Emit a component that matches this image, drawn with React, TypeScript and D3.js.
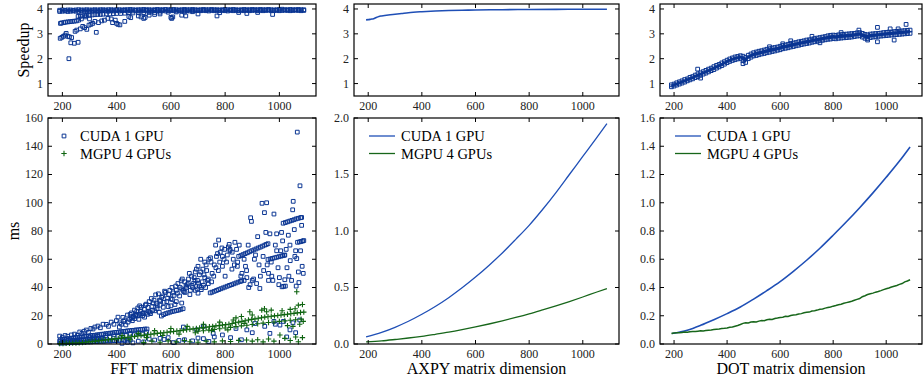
import React from 'react'
import * as d3 from 'd3'

type Pt = [number, number]

// matrix dimensions sampled every 10
const dims = [
  190, 200, 210, 220, 230, 240, 250, 260, 270, 280, 290, 300, 310, 320, 330, 340, 350, 360, 370, 380,
  390, 400, 410, 420, 430, 440, 450, 460, 470, 480, 490, 500, 510, 520, 530, 540, 550, 560, 570, 580,
  590, 600, 610, 620, 630, 640, 650, 660, 670, 680, 690, 700, 710, 720, 730, 740, 750, 760, 770, 780,
  790, 800, 810, 820, 830, 840, 850, 860, 870, 880, 890, 900, 910, 920, 930, 940, 950, 960, 970, 980,
  990, 1000, 1010, 1020, 1030, 1040, 1050, 1060, 1070, 1080, 1090,
]

// ---- FFT ----
const fftSpeedRowA = [
  3.95, 3.96, 3.95, 3.96, 3.96, 3.95, 3.96, 3.97, 3.96, 3.96,
  3.97, 3.96, 3.96, 3.97, 3.96, 3.97, 3.97, 3.96, 3.97, 3.97,
  3.96, 3.97, 3.97, 3.96, 3.97, 3.97, 3.98, 3.97, 3.96, 3.97,
  3.97, 3.98, 3.97, 3.97, 3.96, 3.97, 3.98, 3.97, 3.97, 3.98,
  3.97, 3.97, 3.98, 3.97, 3.96, 3.97, 3.98, 3.97, 3.97, 3.98,
  3.97, 3.96, 3.97, 3.98, 3.97, 3.97, 3.98, 3.97, 3.97, 3.96,
  3.97, 3.98, 3.97, 3.97, 3.98, 3.97, 3.96, 3.97, 3.98, 3.97,
  3.97, 3.98, 3.97, 3.97, 3.98, 3.97, 3.97, 3.98, 3.97, 3.96,
  3.97, 3.98, 3.99, 3.97, 3.97, 3.98, 3.97, 3.97, 3.98, 3.97, 3.97,
]
const fftSpeedRowB = [
  3.90, 3.91, 3.92, 3.90, 3.91, 3.92, 3.91, 3.90, 3.92, 3.91,
  3.92, 3.91, 3.92, 3.93, 3.91, 3.92, 3.93, 3.92, 3.91, 3.93,
  3.92, 3.93, 3.92, 3.93, 3.94, 3.92, 3.93, 3.92, 3.94, 3.93,
  3.92, 3.93, 3.94, 3.93, 3.92, 3.94, 3.93, 3.93, 3.94, 3.92,
  3.93, 3.94, 3.93, 3.92, 3.94, 3.93, 3.94, 3.93, 3.92, 3.94,
  3.93, 3.94, 3.93, 3.94, 3.93, 3.92, 3.94, 3.93, 3.94, 3.93,
  3.94, 3.93, 3.92, 3.94, 3.93, 3.94, 3.93, 3.94, 3.93, 3.94,
  3.93, 3.94, 3.95, 3.93, 3.94, 3.93, 3.94, 3.95, 3.93, 3.94,
  3.94, 3.93, 3.94, 3.95, 3.94, 3.93, 3.94, 3.95, 3.94, 3.93, 3.94,
]
const fftSpeedOther: Pt[] = [
  [193, 3.42], [197, 3.44], [205, 3.45], [212, 3.47], [220, 3.48], [228, 3.49], [236, 3.5], [244, 3.51], [252, 3.52],
  [258, 3.7], [266, 3.71], [274, 3.72], [282, 3.73], [290, 3.74], [300, 3.75], [310, 3.76], [320, 3.77], [330, 3.78],
  [340, 3.78], [350, 3.79], [362, 3.8], [375, 3.8], [388, 3.81], [400, 3.82], [415, 3.82], [430, 3.83], [445, 3.84],
  [460, 3.84], [480, 3.85], [500, 3.85], [520, 3.86], [540, 3.86], [560, 3.87], [590, 3.87], [620, 3.88], [650, 3.88], [680, 3.89],
  [192, 2.82], [198, 2.86], [204, 2.9], [210, 2.95], [214, 3.02], [220, 2.9], [226, 2.88], [231, 2.64], [234, 2.85],
  [224, 2.0], [244, 2.62], [247, 3.1], [253, 3.15], [258, 2.66], [266, 3.2], [275, 3.3], [282, 3.25], [290, 3.18],
  [298, 3.35], [305, 3.38], [312, 3.42], [320, 3.5], [325, 3.06], [333, 3.45], [345, 3.52], [355, 3.55], [368, 3.62],
  [380, 3.6], [385, 3.45], [395, 3.55], [400, 3.42], [405, 3.38], [412, 3.36], [430, 3.5], [445, 3.7], [452, 3.65],
  [480, 3.72], [490, 3.68], [500, 3.62], [505, 3.66], [520, 3.75], [540, 3.78], [560, 3.8], [600, 3.66], [603, 3.62],
  [607, 3.68], [640, 3.75], [655, 3.72], [700, 3.8], [770, 3.72], [780, 3.85], [880, 3.82], [975, 3.78], [920, 3.86],
  [850, 3.86], [260, 3.55], [270, 3.6], [285, 3.68], [300, 3.6],
]

const fftCudaMs: Pt[] = [
  [192, 0.6], [200, 0.8], [208, 0.7], [216, 0.9], [224, 1.0], [232, 0.9], [240, 1.1], [248, 1.2], [256, 1.1], [264, 1.3],
  [272, 1.4], [280, 1.3], [288, 1.5], [296, 1.6], [304, 1.5], [312, 1.7], [320, 1.8], [328, 1.7], [336, 1.9], [344, 2.0],
  [352, 1.9], [360, 2.1], [368, 2.2], [376, 2.1], [384, 2.3], [392, 2.4], [400, 2.3], [410, 2.5], [420, 2.6], [430, 2.5],
  [440, 2.7], [450, 2.8],
  [190, 2.0], [198, 2.2], [206, 1.9], [214, 2.3], [222, 2.4], [230, 2.2], [238, 2.6], [246, 2.7], [254, 2.5], [262, 2.9],
  [270, 3.0], [278, 2.8], [286, 3.2], [294, 3.3], [302, 3.1], [310, 3.5], [318, 3.6], [326, 3.4], [334, 3.8], [342, 3.9], [350, 3.7],
  [192, 3.0], [200, 3.3], [208, 3.4], [216, 3.7], [224, 3.8], [232, 4.1], [240, 4.2], [248, 4.5], [256, 4.6], [264, 4.9],
  [272, 5.0], [280, 5.3], [288, 5.4], [296, 5.7], [304, 5.8], [312, 6.1], [320, 6.2], [328, 6.5], [336, 6.6], [344, 6.9],
  [352, 7.0], [360, 7.3], [368, 7.4], [376, 7.7], [384, 7.8], [392, 8.1], [400, 8.2], [408, 8.5], [416, 8.6], [424, 8.9],
  [432, 9.0], [440, 9.3], [448, 9.4], [456, 9.6], [464, 9.7], [472, 10.0], [480, 10.0], [488, 10.3], [496, 10.3], [504, 10.6], [512, 10.6],
  [300, 4.5], [315, 5.0], [330, 5.5], [345, 4.2], [360, 6.0], [375, 5.0], [390, 6.5], [405, 5.5], [420, 7.0], [435, 6.0],
  [450, 7.5], [465, 6.5], [480, 8.0], [495, 7.0], [510, 8.5],
  [420, 0.5], [440, 1.2], [460, 0.8], [480, 2.0], [500, 1.5], [520, 3.5], [540, 2.8], [560, 4.0], [575, 3.2], [590, 4.5],
  [610, 1.0], [630, 2.5], [650, 3.0], [680, 2.2], [700, 4.2], [720, 3.8], [740, 1.8], [760, 5.0], [790, 6.4], [820, 4.5],
  [860, 3.0], [880, 10.0], [900, 8.0], [965, 7.5], [1002, 13.4], [1039, 10.0], [1027, 5.0], [985, 14.0], [1060, 8.0],
  [946, 12.5], [756, 7.5], [695, 10.0], [646, 12.0], [720, 12.5], [840, 11.0], [910, 14.5], [1015, 16.0], [1050, 15.0],
  [1075, 17.0], [980, 16.0],
  [190, 5.6], [200, 4.8], [210, 6.0], [220, 5.5], [233, 6.4], [245, 7.0], [255, 6.2], [264, 8.5], [272, 7.5], [280, 9.0],
  [288, 9.9], [296, 8.2], [305, 11.0], [313, 10.6], [320, 12.0], [331, 12.7], [340, 11.5], [350, 14.0], [362, 13.9],
  [370, 12.5], [380, 15.5], [390, 14.0], [399, 16.5], [405, 19.0], [412, 15.0], [423, 18.8], [430, 17.0], [440, 20.5],
  [448, 17.4], [455, 22.0], [460, 19.0], [466, 24.0], [472, 21.0], [478, 25.5], [485, 27.0], [490, 23.0], [496, 20.0],
  [502, 24.5], [509, 28.2], [516, 25.9], [522, 22.5], [528, 32.2], [535, 29.0], [544, 34.8], [550, 27.0], [558, 31.0],
  [566, 33.0], [572, 26.0], [577, 37.4], [585, 30.0], [592, 35.0], [600, 32.0], [608, 36.2], [615, 28.0], [620, 38.0],
  [626, 42.8], [632, 34.0], [638, 44.7], [645, 38.0], [651, 44.0], [658, 40.0], [665, 46.0], [670, 35.0], [676, 48.0],
  [684, 43.0], [690, 51.0], [698, 45.0], [705, 49.0], [712, 40.0], [718, 53.0], [725, 47.0], [732, 52.0], [740, 60.0],
  [746, 61.0], [752, 50.0], [760, 56.0], [768, 62.0], [775, 52.0], [782, 65.0], [790, 55.0], [798, 67.0], [805, 58.0],
  [812, 68.7], [818, 66.0], [825, 53.0], [836, 72.0], [845, 55.0], [858, 48.0], [870, 45.0], [879, 52.0], [887, 40.0],
  [894, 89.4], [897, 86.8], [905, 46.0], [916, 42.8], [928, 39.3], [936, 99.6], [945, 93.0], [953, 100.0], [960, 45.0],
  [965, 78.0], [972, 48.0], [980, 92.0], [990, 78.0], [998, 42.0], [1005, 66.0], [1012, 73.0], [1020, 63.0], [1028, 54.0],
  [1033, 77.0], [1039, 70.0], [1045, 45.0], [1049, 95.0], [1051, 101.0], [1057, 62.0], [1064, 60.5], [1066, 150.0],
  [1070, 51.0], [1076, 112.0], [1082, 84.0], [1084, 55.0], [1088, 50.0],
  [410, 12.0], [418, 14.0], [426, 16.0], [434, 13.5], [442, 15.5], [450, 21.0], [458, 16.5], [466, 18.0], [474, 23.0],
  [482, 17.5], [490, 26.0], [498, 22.0], [506, 27.5], [514, 21.0], [520, 30.0], [530, 26.5], [538, 31.0], [546, 28.5],
  [554, 35.5], [562, 30.5], [570, 34.0], [580, 36.5], [588, 32.5], [596, 38.0], [604, 40.0], [612, 34.5], [618, 41.0],
  [624, 36.0], [634, 40.0], [642, 46.0], [652, 36.5], [660, 42.0], [668, 50.0], [678, 41.5], [686, 47.0], [694, 53.0],
  [702, 43.0], [710, 51.0], [722, 49.0], [730, 56.0], [738, 46.0], [748, 58.0], [758, 48.0], [766, 54.0], [772, 64.0],
  [780, 58.0], [788, 68.0], [796, 60.0], [808, 63.0], [815, 70.5], [826, 65.0], [834, 56.0], [842, 67.0], [870, 60.0],
  [880, 47.0], [892, 42.0], [912, 63.0], [930, 48.0], [942, 52.0], [955, 56.0], [976, 45.0], [985, 70.0], [995, 54.0],
  [1008, 79.0], [1025, 67.0], [1035, 48.0], [1062, 41.0], [1078, 66.0],
  [454, 18.5], [462, 19.5], [470, 20.2], [478, 19.8], [486, 21.0], [494, 21.5], [503, 19.0], [510, 22.0], [518, 23.0],
  [525, 21.5], [533, 24.0], [541, 23.5], [549, 25.0], [557, 22.5], [565, 19.8], [573, 20.8], [581, 21.5], [589, 22.0],
  [597, 22.5], [605, 23.0], [613, 23.3], [621, 23.7], [629, 24.0], [637, 24.5], [645, 25.0], [560, 27.5], [575, 29.5],
  [590, 26.5], [605, 31.5], [620, 30.0], [640, 29.0], [600, 27.0],
  [640, 39.0], [648, 37.0], [656, 41.0], [664, 43.0], [672, 38.0], [680, 40.0], [689, 45.0], [697, 39.0], [705, 41.0],
  [712, 38.5], [720, 41.6], [728, 40.0], [738, 42.8], [700, 36.0], [690, 38.0], [715, 44.0],
  [745, 36.2], [752, 36.7], [760, 37.3], [768, 37.9], [776, 38.5], [784, 39.1], [792, 39.7], [800, 40.3], [808, 40.9],
  [816, 41.5], [824, 42.0], [832, 42.6], [840, 43.2], [848, 43.8], [856, 44.3], [861, 44.7],
  [850, 62.0], [858, 62.6], [866, 63.3], [874, 64.0], [882, 64.6], [890, 65.3], [898, 66.0], [906, 66.6], [914, 67.3],
  [922, 68.0], [930, 68.6], [938, 69.3], [946, 70.0], [952, 70.5], [958, 71.0],
  [958, 59.8], [966, 60.2], [974, 60.6], [982, 61.0], [990, 61.4], [998, 61.8], [1006, 62.2], [1012, 62.5], [1018, 62.8],
  [1014, 85.5], [1022, 86.0], [1030, 86.5], [1038, 87.0], [1046, 87.5], [1054, 88.0], [1062, 88.6], [1070, 89.0],
  [1078, 89.4], [1082, 89.6],
  [1067, 72.0], [1074, 72.3], [1080, 72.6], [1086, 72.9], [1090, 73.2],
  [1010, 40.5], [1016, 40.8], [1022, 41.0],
  [700, 55.0], [710, 60.0], [725, 58.0], [735, 45.0], [750, 44.0], [765, 70.0], [776, 73.6], [790, 62.0], [800, 48.0],
  [818, 67.0], [830, 60.0], [846, 58.0], [852, 70.0], [862, 50.0], [875, 55.0], [885, 70.0], [900, 45.0], [908, 60.0],
  [920, 76.0], [925, 56.0], [940, 62.0], [950, 79.0], [960, 50.0], [970, 58.0], [990, 66.0], [1000, 47.0], [1020, 45.5],
  [1040, 59.0], [1055, 81.0], [1060, 66.0], [1072, 43.5],
]

const fftMgpuMs: Pt[] = [
  [190, 0.3], [202, 0.4], [214, 0.5], [226, 0.5], [238, 0.6], [250, 0.7], [262, 0.8], [274, 1.0], [286, 1.2], [298, 1.5],
  [310, 1.7], [322, 2.0], [334, 2.2], [346, 2.5], [358, 2.8], [370, 3.1], [382, 3.3], [394, 3.6], [406, 3.9], [418, 4.2],
  [430, 4.5], [442, 4.8], [454, 5.1], [466, 5.4], [478, 5.7], [490, 6.0], [502, 6.3], [514, 6.6], [526, 6.9], [538, 7.2],
  [550, 7.5], [562, 7.8], [574, 8.0], [586, 8.3], [598, 8.6], [610, 8.9], [622, 9.2], [634, 9.5], [646, 9.8], [658, 10.1],
  [670, 10.4], [682, 10.7], [694, 11.0], [706, 11.3], [718, 11.6], [730, 11.9], [742, 12.2], [754, 12.5], [766, 12.8],
  [778, 13.1], [790, 13.4], [802, 13.7], [814, 14.0], [826, 14.5], [838, 15.0], [850, 15.5], [862, 16.0], [874, 16.5],
  [886, 17.0], [898, 17.4], [910, 17.8], [922, 18.2], [934, 18.6], [946, 19.0], [958, 19.3], [970, 19.6], [982, 19.9],
  [994, 20.2], [1006, 20.5], [1018, 20.8], [1030, 21.1], [1042, 21.4], [1054, 21.7], [1066, 22.0], [1078, 22.3], [1090, 22.6],
  [700, 9.0], [720, 9.4], [740, 9.8], [760, 10.3], [780, 10.8], [800, 11.3], [820, 11.8], [840, 12.3], [860, 12.8],
  [880, 13.3], [900, 13.8], [920, 14.3], [940, 14.8], [960, 15.2], [980, 15.6], [1000, 16.0], [1020, 16.4], [1040, 16.8],
  [1060, 17.2], [1080, 17.6],
  [891, 22.8], [935, 24.0], [945, 25.0], [953, 22.8], [970, 24.0], [1064, 37.0], [1070, 27.5], [1058, 25.0], [1085, 28.0],
  [1040, 24.5], [1010, 23.5], [900, 20.5], [860, 19.5], [840, 18.5], [1075, 14.0], [1088, 16.0], [1050, 12.5], [1030, 13.0],
  [500, 1.0], [530, 2.0], [560, 1.2], [590, 2.2], [620, 1.5], [650, 2.5], [670, 1.6], [700, 1.2], [730, 2.0], [760, 1.5],
  [790, 2.2], [820, 1.8], [850, 2.6], [879, 2.8], [900, 2.0], [920, 3.0], [940, 1.5], [960, 3.5], [980, 2.0], [1002, 6.4],
  [1020, 4.0], [1040, 2.5], [1060, 5.0], [1070, 1.6], [1085, 4.5],
  [420, 6.0], [450, 3.0], [480, 7.5], [510, 4.5], [540, 9.5], [570, 6.0], [600, 11.0], [630, 7.0], [660, 12.5], [690, 8.0],
  [720, 14.0], [750, 9.5], [780, 15.5], [810, 10.0], [830, 17.0], [870, 14.5],
]

// ---- AXPY ----
const axpyDims = [192, 250, 300, 350, 400, 450, 500, 550, 600, 650, 700, 750, 800, 850, 900, 950, 1000, 1050, 1090]
const axpyCudaMs = [0.062, 0.103, 0.148, 0.201, 0.263, 0.332, 0.41, 0.497, 0.592, 0.695, 0.806, 0.926, 1.05, 1.19, 1.34, 1.5, 1.66, 1.82, 1.95]
const axpyMgpuMs = [0.018, 0.028, 0.04, 0.053, 0.068, 0.086, 0.105, 0.127, 0.151, 0.177, 0.205, 0.235, 0.267, 0.302, 0.338, 0.376, 0.416, 0.458, 0.49]
const axpySpeedDims = [192, 200, 210, 220, 230, 240, 250, 275, 300, 325, 350, 400, 450, 500, 550, 600, 700, 800, 900, 1000, 1090]
const axpySpeedup = [3.56, 3.57, 3.59, 3.61, 3.66, 3.7, 3.72, 3.76, 3.79, 3.82, 3.85, 3.89, 3.92, 3.94, 3.95, 3.96, 3.97, 3.98, 3.985, 3.99, 3.99]

// ---- DOT ----
const dotDims = [192, 250, 300, 350, 400, 450, 500, 550, 600, 650, 700, 750, 800, 850, 900, 950, 1000, 1050, 1090]
const dotCudaMs = [0.074, 0.098, 0.132, 0.172, 0.215, 0.262, 0.318, 0.378, 0.442, 0.515, 0.593, 0.678, 0.77, 0.865, 0.965, 1.07, 1.18, 1.295, 1.395]
const dotMgpuMs = [
  0.074, 0.078, 0.080, 0.079, 0.082, 0.085, 0.084, 0.087, 0.089, 0.088, 0.091, 0.093, 0.092, 0.095, 0.098, 0.099, 0.102, 0.104, 0.106, 0.109,
  0.111, 0.114, 0.118, 0.121, 0.126, 0.131, 0.138, 0.146, 0.150, 0.149, 0.155, 0.158, 0.156, 0.162, 0.166, 0.165, 0.171, 0.175, 0.174, 0.181,
  0.184, 0.188, 0.190, 0.196, 0.195, 0.202, 0.205, 0.207, 0.213, 0.215, 0.221, 0.224, 0.226, 0.233, 0.236, 0.240, 0.246, 0.248, 0.254, 0.258,
  0.262, 0.268, 0.272, 0.278, 0.281, 0.288, 0.293, 0.298, 0.303, 0.310, 0.316, 0.322, 0.335, 0.342, 0.350, 0.356, 0.360, 0.367, 0.372, 0.378,
  0.385, 0.391, 0.396, 0.403, 0.409, 0.414, 0.422, 0.428, 0.440, 0.446, 0.455,
]
const dotSpeedRowA = [
  0.95, 0.98, 1.03, 1.07, 1.11, 1.16, 1.19, 1.25, 1.28, 1.34, 1.39, 1.43, 1.48, 1.53, 1.58, 1.62, 1.68, 1.73, 1.77, 1.83,
  1.88, 1.94, 1.99, 2.03, 2.07, 2.09, 2.12, 2.10, 2.05, 2.14, 2.19, 2.24, 2.27, 2.30, 2.32, 2.35, 2.38, 2.40, 2.43, 2.45,
  2.47, 2.50, 2.53, 2.55, 2.58, 2.62, 2.63, 2.65, 2.68, 2.70, 2.72, 2.75, 2.76, 2.79, 2.81, 2.83, 2.85, 2.87, 2.89, 2.92,
  2.94, 2.95, 2.94, 2.96, 2.97, 2.98, 2.99, 3.00, 3.01, 3.02, 3.04, 3.05, 3.02, 2.98, 2.96, 2.99, 3.00, 3.01, 3.02, 3.03,
  3.05, 3.06, 3.07, 3.07, 3.09, 3.10, 3.11, 3.12, 3.13, 3.14, 3.15,
]
const dotSpeedRowB = [
  0.87, 0.90, 0.94, 0.98, 1.02, 1.06, 1.11, 1.15, 1.19, 1.24, 1.28, 1.33, 1.38, 1.42, 1.47, 1.52, 1.56, 1.62, 1.67, 1.72,
  1.78, 1.84, 1.89, 1.93, 1.96, 1.99, 2.01, 1.92, 1.85, 2.00, 2.06, 2.11, 2.13, 2.16, 2.19, 2.21, 2.24, 2.26, 2.29, 2.31,
  2.34, 2.36, 2.40, 2.42, 2.44, 2.47, 2.49, 2.52, 2.54, 2.57, 2.59, 2.61, 2.63, 2.66, 2.68, 2.70, 2.72, 2.74, 2.76, 2.78,
  2.79, 2.81, 2.80, 2.82, 2.83, 2.84, 2.85, 2.86, 2.87, 2.89, 2.91, 2.92, 2.87, 2.82, 2.80, 2.85, 2.87, 2.88, 2.90, 2.91,
  2.92, 2.93, 2.94, 2.95, 2.96, 2.97, 2.98, 2.99, 3.00, 3.01, 3.02,
]
const dotSpeedOther: Pt[] = [
  [289, 1.58], [967, 3.26], [967, 2.68], [1075, 3.38], [1030, 2.75], [1015, 3.2], [897, 3.15], [640, 2.72], [720, 2.9],
  [560, 2.48], [830, 3.05], [1045, 3.2], [610, 2.6], [300, 1.22], [460, 1.8], [750, 2.64], [930, 2.75],
]

const xTicks = [200, 400, 600, 800, 1000]
const speedTicks = [1, 2, 3, 4]
const fftTicks = [0, 20, 40, 60, 80, 100, 120, 140, 160]
const axpyTicks = [0, 0.5, 1, 1.5, 2]
const dotTicks = [0, 0.2, 0.4, 0.6, 0.8, 1, 1.2, 1.4, 1.6]
const legendNames = ['CUDA 1 GPU', 'MGPU 4 GPUs']
const xNames = ['FFT matrix dimension', 'AXPY matrix dimension', 'DOT matrix dimension']

const FONT = '"Liberation Serif", "Times New Roman", serif'
const BLUE = '#0b3693'
const GREEN = '#0e6410'
const LBLUE = '#1f4fb6'
const LGREEN = '#17661a'

const cols: [number, number][] = [[48, 316], [354, 619], [660, 922]]
const topRows: [number, number] = [96, 4]
const botRows: [number, number] = [344, 118]

const sq = d3.symbol(d3.symbolSquare, 14)() as string
const plus = 'M-2.7,0H2.7M0,-2.7V2.7'

type Lin = d3.ScaleLinear<number, number>

function Frame({ x, y, yTicks, fmt }: { x: Lin; y: Lin; yTicks: number[]; fmt: (v: number) => string }) {
  const [l, r] = x.range()
  const [b, t] = y.range()
  return (
    <g fontFamily={FONT}>
      {xTicks.map((v) => (
        <g key={'x' + v}>
          <line x1={x(v)} x2={x(v)} y1={b} y2={b - 4} stroke="#000" />
          <line x1={x(v)} x2={x(v)} y1={t} y2={t + 4} stroke="#000" />
          <text x={x(v)} y={b + 13.5} textAnchor="middle" fontSize={12} fill="#222">{v}</text>
        </g>
      ))}
      {yTicks.map((v) => (
        <g key={'y' + v}>
          <line x1={l} x2={l + 4} y1={y(v)} y2={y(v)} stroke="#000" />
          <line x1={r} x2={r - 4} y1={y(v)} y2={y(v)} stroke="#000" />
          <text x={l - 5} y={y(v)} dy="0.33em" textAnchor="end" fontSize={12} fill="#222">{fmt(v)}</text>
        </g>
      ))}
      <rect x={l} y={t} width={r - l} height={b - t} fill="none" stroke="#000" strokeWidth={1.2} />
    </g>
  )
}

const Squares = ({ pts, x, y }: { pts: Pt[]; x: Lin; y: Lin }) => (
  <g fill="none" stroke={BLUE} strokeWidth={1}>
    {pts.map((p, i) => <path key={i} d={sq} transform={`translate(${x(p[0])},${y(p[1])})`} />)}
  </g>
)

const Pluses = ({ pts, x, y }: { pts: Pt[]; x: Lin; y: Lin }) => (
  <g fill="none" stroke={GREEN} strokeWidth={1.1}>
    {pts.map((p, i) => <path key={i} d={plus} transform={`translate(${x(p[0])},${y(p[1])})`} />)}
  </g>
)

// solid fill between two dense rows of markers
const Band = ({ lo, hi, x, y }: { lo: number[]; hi: number[]; x: Lin; y: Lin }) => {
  const a = d3.area<number>().x((_, i) => x(dims[i])).y0((_, i) => y(lo[i])).y1((_, i) => y(hi[i]))
  return <path d={a(lo) ?? ''} fill={BLUE} />
}

const zip = (xs: number[], ys: number[]): Pt[] => xs.map((v, i) => [v, ys[i]])

export default function App() {
  const xs = cols.map((c) => d3.scaleLinear().domain([147, 1135]).range(c))
  const yTop = d3.scaleLinear().domain([0.5, 4.2]).range(topRows)
  const yFft = d3.scaleLinear().domain([0, 160]).range(botRows)
  const yAxpy = d3.scaleLinear().domain([0, 2]).range(botRows)
  const yDot = d3.scaleLinear().domain([0, 1.6]).range(botRows)
  const smooth = (x: Lin, y: Lin) => d3.line<Pt>().x((d) => x(d[0])).y((d) => y(d[1])).curve(d3.curveMonotoneX)
  const plain = (x: Lin, y: Lin) => d3.line<Pt>().x((d) => x(d[0])).y((d) => y(d[1]))

  const fftSpeed: Pt[] = [...zip(dims, fftSpeedRowA), ...zip(dims, fftSpeedRowB), ...fftSpeedOther]
  const dotSpeed: Pt[] = [...zip(dims, dotSpeedRowA), ...zip(dims, dotSpeedRowB), ...dotSpeedOther]
  const fmt0 = (v: number) => String(v)
  const fmt1 = d3.format('.1f')

  const lineLegend = (left: number) => (
    <g fontFamily={FONT} fontSize={14.5}>
      {legendNames.map((n, i) => (
        <g key={n}>
          <line x1={left + 15} x2={left + 41} y1={136 + i * 17.5} y2={136 + i * 17.5} stroke={i ? LGREEN : LBLUE} strokeWidth={1.3} />
          <text x={left + 47} y={141 + i * 17.5}>{n}</text>
        </g>
      ))}
    </g>
  )

  return (
    <svg width={923} height={381} style={{ position: 'absolute', left: 0, top: 0, background: '#fff' }}>
      {/* FFT */}
      <Band lo={fftSpeedRowB} hi={fftSpeedRowA} x={xs[0]} y={yTop} />
      <Squares pts={fftSpeed} x={xs[0]} y={yTop} />
      <Frame x={xs[0]} y={yTop} yTicks={speedTicks} fmt={fmt0} />
      <Squares pts={fftCudaMs} x={xs[0]} y={yFft} />
      <Pluses pts={fftMgpuMs} x={xs[0]} y={yFft} />
      <Frame x={xs[0]} y={yFft} yTicks={fftTicks} fmt={fmt0} />
      <g fontFamily={FONT} fontSize={14.5}>
        <path d={sq} transform="translate(64,136)" fill="none" stroke={BLUE} strokeWidth={1} />
        <text x={80} y={141}>{legendNames[0]}</text>
        <path d={plus} transform="translate(64,153.5)" fill="none" stroke={GREEN} strokeWidth={1.1} />
        <text x={80} y={158.5}>{legendNames[1]}</text>
      </g>

      {/* AXPY */}
      <path d={smooth(xs[1], yTop)(zip(axpySpeedDims, axpySpeedup)) ?? ''} fill="none" stroke={LBLUE} strokeWidth={1.6} />
      <Frame x={xs[1]} y={yTop} yTicks={speedTicks} fmt={fmt0} />
      <path d={smooth(xs[1], yAxpy)(zip(axpyDims, axpyCudaMs)) ?? ''} fill="none" stroke={LBLUE} strokeWidth={1.3} />
      <path d={smooth(xs[1], yAxpy)(zip(axpyDims, axpyMgpuMs)) ?? ''} fill="none" stroke={LGREEN} strokeWidth={1.3} />
      <Frame x={xs[1]} y={yAxpy} yTicks={axpyTicks} fmt={fmt1} />
      {lineLegend(cols[1][0])}

      {/* DOT */}
      <Band lo={dotSpeedRowB} hi={dotSpeedRowA} x={xs[2]} y={yTop} />
      <Squares pts={dotSpeed} x={xs[2]} y={yTop} />
      <Frame x={xs[2]} y={yTop} yTicks={speedTicks} fmt={fmt0} />
      <path d={smooth(xs[2], yDot)(zip(dotDims, dotCudaMs)) ?? ''} fill="none" stroke={LBLUE} strokeWidth={1.6} />
      <path d={plain(xs[2], yDot)(zip(dims, dotMgpuMs)) ?? ''} fill="none" stroke={LGREEN} strokeWidth={1.5} />
      <Frame x={xs[2]} y={yDot} yTicks={dotTicks} fmt={fmt1} />
      {lineLegend(cols[2][0])}

      {/* axis titles */}
      <g fontFamily={FONT} fontSize={16} textAnchor="middle">
        <text transform="translate(23,50) rotate(-90)" dy="0.35em">Speedup</text>
        <text transform="translate(13,231) rotate(-90)" dy="0.35em">ms</text>
        {xNames.map((n, i) => (
          <text key={n} x={(cols[i][0] + cols[i][1]) / 2} y={374}>{n}</text>
        ))}
      </g>
    </svg>
  )
}
